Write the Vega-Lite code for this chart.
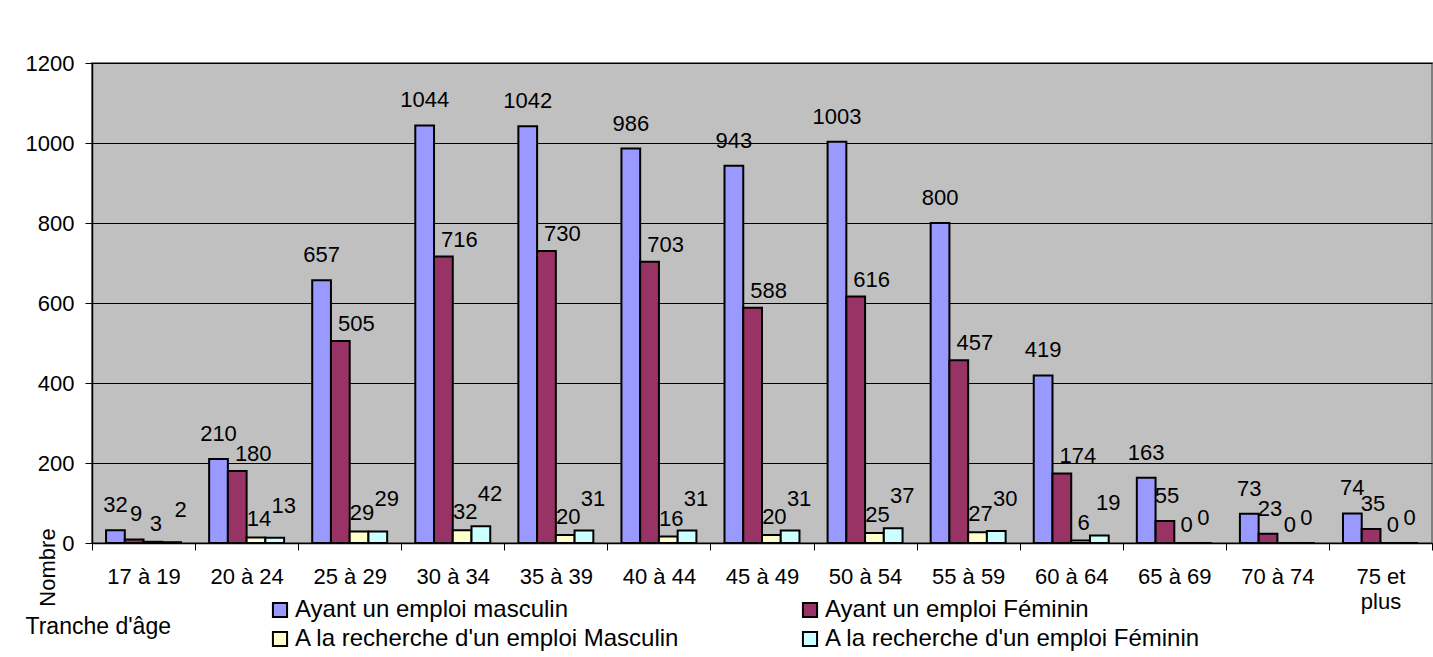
{
  "$schema": "https://vega.github.io/schema/vega-lite/v6.json",
  "width": 1340,
  "height": 480,
  "autosize": {"type": "none"},
  "padding": {"left": 92, "top": 63, "right": 1, "bottom": 114},
  "background": "white",
  "config": {
    "font": "Liberation Sans",
    "view": {"fill": "#C0C0C0", "stroke": "#808080", "strokeWidth": 2}
  },
  "data": {
    "values": [
      {"age": "17 à 19", "serie": "Ayant un emploi masculin", "n": 32},
      {"age": "17 à 19", "serie": "Ayant un emploi Féminin", "n": 9},
      {"age": "17 à 19", "serie": "A la recherche d'un emploi Masculin", "n": 3},
      {"age": "17 à 19", "serie": "A la recherche d'un emploi Féminin", "n": 2},
      {"age": "20 à 24", "serie": "Ayant un emploi masculin", "n": 210},
      {"age": "20 à 24", "serie": "Ayant un emploi Féminin", "n": 180},
      {"age": "20 à 24", "serie": "A la recherche d'un emploi Masculin", "n": 14},
      {"age": "20 à 24", "serie": "A la recherche d'un emploi Féminin", "n": 13},
      {"age": "25 à 29", "serie": "Ayant un emploi masculin", "n": 657},
      {"age": "25 à 29", "serie": "Ayant un emploi Féminin", "n": 505},
      {"age": "25 à 29", "serie": "A la recherche d'un emploi Masculin", "n": 29},
      {"age": "25 à 29", "serie": "A la recherche d'un emploi Féminin", "n": 29},
      {"age": "30 à 34", "serie": "Ayant un emploi masculin", "n": 1044},
      {"age": "30 à 34", "serie": "Ayant un emploi Féminin", "n": 716},
      {"age": "30 à 34", "serie": "A la recherche d'un emploi Masculin", "n": 32},
      {"age": "30 à 34", "serie": "A la recherche d'un emploi Féminin", "n": 42},
      {"age": "35 à 39", "serie": "Ayant un emploi masculin", "n": 1042},
      {"age": "35 à 39", "serie": "Ayant un emploi Féminin", "n": 730},
      {"age": "35 à 39", "serie": "A la recherche d'un emploi Masculin", "n": 20},
      {"age": "35 à 39", "serie": "A la recherche d'un emploi Féminin", "n": 31},
      {"age": "40 à 44", "serie": "Ayant un emploi masculin", "n": 986},
      {"age": "40 à 44", "serie": "Ayant un emploi Féminin", "n": 703},
      {"age": "40 à 44", "serie": "A la recherche d'un emploi Masculin", "n": 16},
      {"age": "40 à 44", "serie": "A la recherche d'un emploi Féminin", "n": 31},
      {"age": "45 à 49", "serie": "Ayant un emploi masculin", "n": 943},
      {"age": "45 à 49", "serie": "Ayant un emploi Féminin", "n": 588},
      {"age": "45 à 49", "serie": "A la recherche d'un emploi Masculin", "n": 20},
      {"age": "45 à 49", "serie": "A la recherche d'un emploi Féminin", "n": 31},
      {"age": "50 à 54", "serie": "Ayant un emploi masculin", "n": 1003},
      {"age": "50 à 54", "serie": "Ayant un emploi Féminin", "n": 616},
      {"age": "50 à 54", "serie": "A la recherche d'un emploi Masculin", "n": 25},
      {"age": "50 à 54", "serie": "A la recherche d'un emploi Féminin", "n": 37},
      {"age": "55 à 59", "serie": "Ayant un emploi masculin", "n": 800},
      {"age": "55 à 59", "serie": "Ayant un emploi Féminin", "n": 457},
      {"age": "55 à 59", "serie": "A la recherche d'un emploi Masculin", "n": 27},
      {"age": "55 à 59", "serie": "A la recherche d'un emploi Féminin", "n": 30},
      {"age": "60 à 64", "serie": "Ayant un emploi masculin", "n": 419},
      {"age": "60 à 64", "serie": "Ayant un emploi Féminin", "n": 174},
      {"age": "60 à 64", "serie": "A la recherche d'un emploi Masculin", "n": 6},
      {"age": "60 à 64", "serie": "A la recherche d'un emploi Féminin", "n": 19},
      {"age": "65 à 69", "serie": "Ayant un emploi masculin", "n": 163},
      {"age": "65 à 69", "serie": "Ayant un emploi Féminin", "n": 55},
      {"age": "65 à 69", "serie": "A la recherche d'un emploi Masculin", "n": 0},
      {"age": "65 à 69", "serie": "A la recherche d'un emploi Féminin", "n": 0},
      {"age": "70 à 74", "serie": "Ayant un emploi masculin", "n": 73},
      {"age": "70 à 74", "serie": "Ayant un emploi Féminin", "n": 23},
      {"age": "70 à 74", "serie": "A la recherche d'un emploi Masculin", "n": 0},
      {"age": "70 à 74", "serie": "A la recherche d'un emploi Féminin", "n": 0},
      {"age": "75 et plus", "serie": "Ayant un emploi masculin", "n": 74},
      {"age": "75 et plus", "serie": "Ayant un emploi Féminin", "n": 35},
      {"age": "75 et plus", "serie": "A la recherche d'un emploi Masculin", "n": 0},
      {"age": "75 et plus", "serie": "A la recherche d'un emploi Féminin", "n": 0}
    ]
  },
  "encoding": {
    "x": {
      "field": "age",
      "type": "nominal",
      "sort": null,
      "scale": {"paddingInner": 0, "paddingOuter": 0},
      "axis": {
        "title": "Tranche d'âge",
        "titleFont": "Liberation Sans",
        "titleFontSize": 23,
        "titleFontWeight": "normal",
        "titleColor": "black",
        "titleX": -67,
        "titleY": 90,
        "titleAlign": "left",
        "titleBaseline": "alphabetic",
        "titleAngle": 0,
        "labelAngle": 0,
        "labelFontSize": 22,
        "labelColor": "black",
        "labelBaseline": "top",
        "labelPadding": 16,
        "labelLineHeight": 25,
        "labelExpr": "datum.value == '75 et plus' ? ['75 et', 'plus'] : datum.label",
        "tickBand": "extent",
        "tickSize": 7,
        "tickColor": "black",
        "tickWidth": 1,
        "domainColor": "black",
        "domainWidth": 1.5,
        "grid": false
      }
    },
    "xOffset": {
      "field": "serie",
      "type": "nominal",
      "sort": ["Ayant un emploi masculin", "Ayant un emploi Féminin", "A la recherche d'un emploi Masculin", "A la recherche d'un emploi Féminin"],
      "scale": {"paddingInner": 0, "paddingOuter": 0.75}
    },
    "y": {
      "field": "n",
      "type": "quantitative",
      "stack": null,
      "scale": {"domain": [0, 1200], "nice": false},
      "axis": {
        "values": [0, 200, 400, 600, 800, 1000, 1200],
        "format": "d",
        "title": "Nombre",
        "titleFont": "Liberation Sans",
        "titleFontSize": 22,
        "titleFontWeight": "normal",
        "titleColor": "black",
        "titleAngle": -90,
        "titleX": -45,
        "titleY": 504,
        "titleAlign": "center",
        "titleBaseline": "middle",
        "labelFontSize": 22,
        "labelColor": "black",
        "labelPadding": 11,
        "tickSize": 7,
        "tickColor": "black",
        "domainColor": "black",
        "domainWidth": 1.5,
        "grid": true,
        "gridColor": "black",
        "gridWidth": 1
      }
    }
  },
  "layer": [
    {
      "mark": {"type": "bar", "stroke": "black", "strokeWidth": 2},
      "encoding": {
        "color": {
          "field": "serie",
          "type": "nominal",
          "scale": {
            "domain": ["Ayant un emploi masculin", "A la recherche d'un emploi Masculin", "Ayant un emploi Féminin", "A la recherche d'un emploi Féminin"],
            "range": ["#9999FF", "#FFFFCC", "#993366", "#CCFFFF"]
          },
          "legend": {
            "title": null,
            "orient": "none",
            "legendX": 176,
            "legendY": 535,
            "columns": 2,
            "columnPadding": 118,
            "rowPadding": 5,
            "labelFontSize": 24,
            "labelColor": "black",
            "labelLimit": 600,
            "labelOffset": 3,
            "symbolType": "square",
            "symbolSize": 200,
            "symbolStrokeColor": "black",
            "symbolStrokeWidth": 2,
            "symbolOpacity": 1
          }
        }
      }
    },
    {
      "transform": [{"filter": "datum.serie == 'Ayant un emploi masculin'"}],
      "mark": {"type": "text", "fontSize": 22, "color": "black", "baseline": "alphabetic", "dy": -18, "dx": 0},
      "encoding": {"text": {"field": "n", "type": "quantitative"}}
    },
    {
      "transform": [{"filter": "datum.serie == 'Ayant un emploi Féminin' && datum.n >= 100"}],
      "mark": {"type": "text", "fontSize": 22, "color": "black", "baseline": "alphabetic", "dy": -10, "dx": 16},
      "encoding": {"text": {"field": "n", "type": "quantitative"}}
    },
    {
      "transform": [{"filter": "datum.serie == 'Ayant un emploi Féminin' && datum.n < 100"}],
      "mark": {"type": "text", "fontSize": 22, "color": "black", "baseline": "alphabetic", "dy": -18, "dx": 2},
      "encoding": {"text": {"field": "n", "type": "quantitative"}}
    },
    {
      "transform": [{"filter": "datum.serie == \"A la recherche d'un emploi Masculin\""}],
      "mark": {"type": "text", "fontSize": 22, "color": "black", "baseline": "alphabetic", "dy": -11, "dx": 3},
      "encoding": {"text": {"field": "n", "type": "quantitative"}}
    },
    {
      "transform": [{"filter": "datum.serie == \"A la recherche d'un emploi Féminin\" && datum.n > 0"}],
      "mark": {"type": "text", "fontSize": 22, "color": "black", "baseline": "alphabetic", "dy": -25, "dx": 9},
      "encoding": {"text": {"field": "n", "type": "quantitative"}}
    },
    {
      "transform": [{"filter": "datum.serie == \"A la recherche d'un emploi Féminin\" && datum.n == 0"}],
      "mark": {"type": "text", "fontSize": 22, "color": "black", "baseline": "alphabetic", "dy": -18, "dx": 1},
      "encoding": {"text": {"field": "n", "type": "quantitative"}}
    }
  ]
}
